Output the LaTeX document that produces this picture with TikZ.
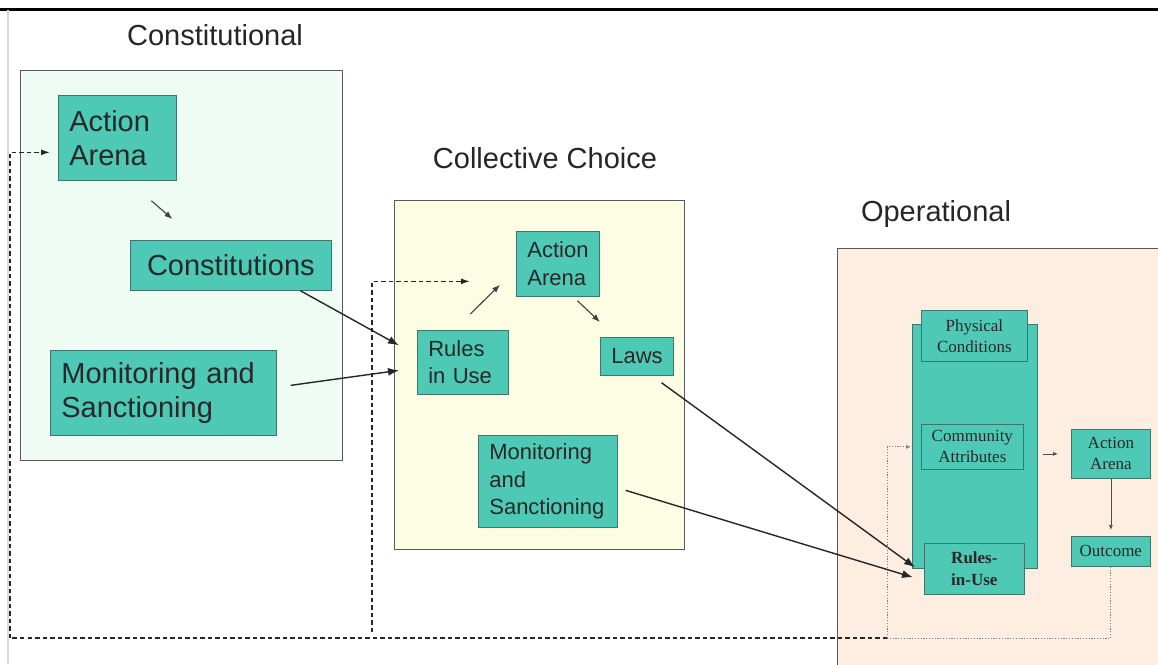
\documentclass[tikz,border=0pt]{standalone}
\usepackage{fontspec}
\setmainfont{Liberation Sans}
\newfontfamily\opserif{Liberation Serif}
\definecolor{tealfill}{RGB}{78, 201, 182}
\definecolor{tealline}{RGB}{62, 118, 108}
\definecolor{constfill}{RGB}{239, 252, 243}
\definecolor{choicefill}{RGB}{253, 253, 228}
\definecolor{opfill}{RGB}{253, 238, 225}
\definecolor{inktext}{RGB}{40, 40, 40}
\usetikzlibrary{arrows.meta, positioning, calc}
\tikzset{
  levelbox/.style={draw=black!65, line width=1pt, anchor=north west, inner sep=0pt},
  tealbox/.style={draw=tealline, fill=tealfill, text=inktext, anchor=north west, inner xsep=11pt, inner ysep=0pt, line width=0.7pt},
  leveltitle/.style={anchor=base, text=black!85, font=\fontsize{29}{34}\selectfont},
  bigtxt/.style={font=\fontsize{29}{34}\selectfont},
  midtxt/.style={font=\fontsize{22}{27.5}\selectfont},
  smalltxt/.style={font=\opserif\fontsize{17}{21}\selectfont, align=center, inner xsep=2pt},
  linkarrow/.style={draw=black!85, line width=1.4pt, -{Latex[length=11pt, width=8pt]}},
  stubarrow/.style={draw=black!75, line width=1.1pt, -{Latex[length=8pt, width=6pt]}},
  tinyarrow/.style={draw=black!70, line width=0.7pt, -{Latex[length=5pt, width=4pt]}},
  backdash/.style={draw=black!85, line width=1.4pt, dash pattern=on 4.5pt off 3pt},
  backdot/.style={draw=black!50, line width=0.8pt, dash pattern=on 1.2pt off 1.6pt}
}
\begin{document}
\begin{tikzpicture}[x=1pt, y=-1pt]
  \fill[white] (0,0) rectangle (1158,664);
  \path[use as bounding box, clip] (0,0) rectangle (1158,664);
  \draw[line width=3pt] (0,9) -- (1158,9);
  \draw[black!15, line width=1.2pt] (8,10) -- (8,664);

  % Constitutional level
  \node[leveltitle] (ttlconst) at (215,45) {Constitutional};
  \node[levelbox, fill=constfill, minimum width=322pt, minimum height=390pt] (constbox) at (20,70) {};
  \node[tealbox, bigtxt, minimum width=118pt, minimum height=85pt, text width=96pt, align=left] (caa) at (58,95) {Action\\Arena};
  \node[tealbox, bigtxt, minimum width=201pt, minimum height=50pt, align=center] (con) at (130,240) {Constitutions};
  \node[tealbox, bigtxt, minimum width=226pt, minimum height=85pt, text width=204pt, align=left] (cmon) at (50,350) {Monitoring and\\Sanctioning};

  % Collective choice level
  \node[leveltitle] (ttlcc) at (545,168) {Collective Choice};
  \node[levelbox, fill=choicefill, minimum width=290pt, minimum height=349pt] (ccbox) at (394,200) {};
  \node[tealbox, midtxt, minimum width=83pt, minimum height=65pt, text width=61pt, align=left] (ccaa) at (516,231) {Action\\Arena};
  \node[tealbox, midtxt, minimum width=91pt, minimum height=64pt, text width=69pt, align=left] (rules) at (417,330) {Rules\\in Use};
  \node[tealbox, midtxt, minimum width=73pt, minimum height=38pt, align=center] (laws) at (600,337) {Laws};
  \node[tealbox, midtxt, minimum width=139pt, minimum height=92pt, text width=117pt, align=left] (ccmon) at (478,435) {Monitoring\\and\\Sanctioning};

  % Operational level
  \node[leveltitle] (ttlop) at (936,221) {Operational};
  \node[levelbox, fill=opfill, minimum width=340pt, minimum height=430pt] (opbox) at (837,248) {};
  \node[tealbox, minimum width=125pt, minimum height=244pt] (opcol) at (912,324) {};
  \node[tealbox, smalltxt, minimum width=106pt, minimum height=51pt] (phys) at (921,310) {Physical\\Conditions};
  \node[tealbox, smalltxt, minimum width=102pt, minimum height=45pt] (comm) at (921,424) {Community\\Attributes};
  \node[tealbox, smalltxt, font=\opserif\bfseries\fontsize{17}{22}\selectfont, minimum width=100pt, minimum height=51pt] (riu) at (924,543) {Rules-\\in-Use};
  \node[tealbox, smalltxt, minimum width=79pt, minimum height=49pt] (opaa) at (1071,429) {Action\\Arena};
  \node[tealbox, smalltxt, minimum width=79pt, minimum height=30pt] (outc) at (1071,536) {Outcome};

  % arrows inside the levels
  \draw[stubarrow] ([shift={(34,20)}]caa.south) -- ([shift={(-58.5,-21)}]con.north);
  \draw[stubarrow] ([shift={(7.5,-16)}]rules.north) -- ([shift={(-16,-12)}]ccaa.south west);
  \draw[stubarrow] ([shift={(19.5,4)}]ccaa.south) -- ([shift={(0,-15)}]laws.north west);
  \draw[tinyarrow, shorten <=5pt, shorten >=13pt] (opcol.east |- opaa.west) -- (opaa.west);
  \draw[tinyarrow, shorten >=6pt] (opaa.south) -- (outc.north);

  % arrows between the levels
  \draw[linkarrow] ([shift={(69.5,0)}]con.south) -- ([shift={(-18,-17)}]rules.west);
  \draw[linkarrow] ([shift={(14,-7.5)}]cmon.east) -- ([shift={(-18,8)}]rules.west);
  \draw[linkarrow] ([shift={(24.5,7)}]laws.south) -- ([shift={(-9,-1.5)}]riu.west);
  \draw[linkarrow] ([shift={(8,9)}]ccmon.east) -- ([shift={(-11,8.5)}]riu.west);

  % feedback from outcome
  \coordinate (bottomrow) at (0,638);
  \coordinate (opturn) at (887,638);
  \coordinate (leftturn) at (10,638);
  \coordinate (midturn) at (372,632);
  \coordinate (ccin) at ([shift={(-46,17.5)}]ccaa.west);
  \coordinate (constin) at ([shift={(0,14.5)}]caa.west);
  \draw[backdot] (outc.south) -- (outc.south |- bottomrow) -- (opturn);
  \draw[backdot, -{Latex[length=5pt, width=4pt]}, shorten >=10pt] (opturn) -- (opturn |- comm.west) -- (comm.west);
  \draw[backdash] (opturn) -- (leftturn);
  \draw[backdash, -{Latex[length=9pt, width=6pt]}, shorten >=8pt] (leftturn) -- (leftturn |- constin) -- (constin);
  \draw[backdash, -{Latex[length=9pt, width=6pt]}] (midturn) -- (midturn |- ccin) -- (ccin);
\end{tikzpicture}
\end{document}
